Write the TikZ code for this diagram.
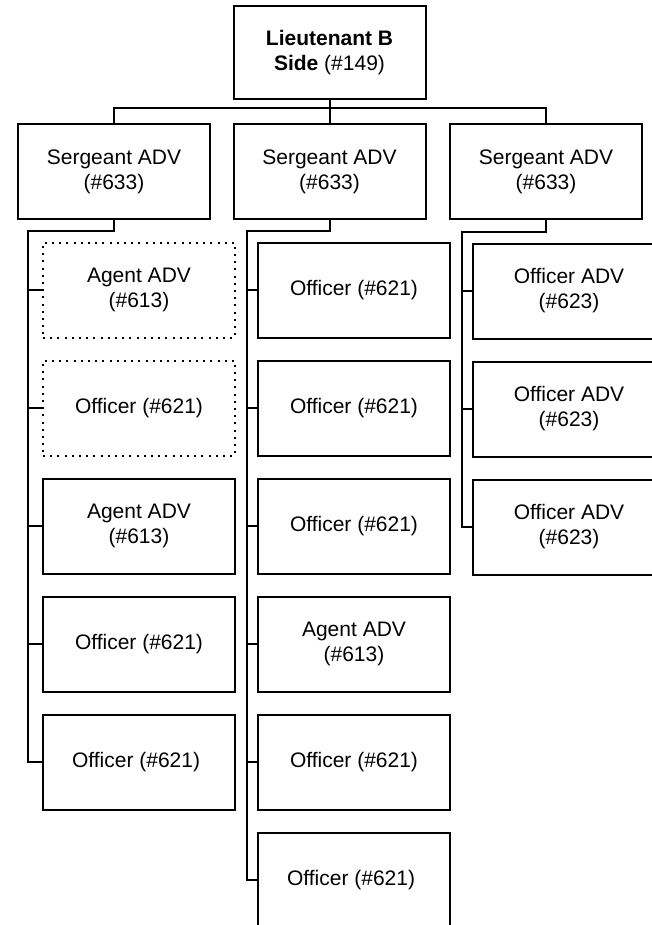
\documentclass[tikz,border=0pt]{standalone}
\usepackage{fontspec}
\setmainfont{Liberation Sans}
\usetikzlibrary{
    positioning,
    calc
}
\tikzset{
    unitbox/.style={draw, line width=1pt, minimum width=96pt, minimum height=47.5pt,
        align=center, inner sep=2pt, font=\fontsize{10.5}{12.5}\selectfont},
    vacantbox/.style={unitbox, dash pattern=on 1pt off 2.6pt},
    wire/.style={line width=1pt}
}

\begin{document}
\begin{tikzpicture}[x=0.5pt, y=-0.5pt]
\useasboundingbox (0,0) rectangle (652,925);
\clip (0,0) rectangle (652,925);

% Command
\node[unitbox, minimum height=46.5pt] (lt) at (329.5,52.5) {\textbf{Lieutenant B}\\\textbf{Side} (\#149)};
\coordinate (bus) at (329.5,108);

% Sergeants
\foreach \s/\x in {A/114, B/329.5, C/546} {
    \node[unitbox] (sg\s) at (\x,172) {Sergeant ADV\\(\#633)};
}
\draw[wire] (lt) -- (bus);
\draw[wire] (sgA.north) |- (bus) -| (sgC.north);
\draw[wire] (sgB.north) -- (bus);

% Column A
\foreach \i/\st/\t in {
    1/vacantbox/{Agent ADV\\(\#613)},
    2/vacantbox/{Officer (\#621)},
    3/unitbox/{Agent ADV\\(\#613)},
    4/unitbox/{Officer (\#621)},
    5/unitbox/{Officer (\#621)}
} {
    \node[\st] (cA\i) at (139,{172+118*\i}) {\t};
}
\coordinate (spA) at (28,231);
\draw[wire] (sgA.south) |- (spA) |- (cA5.west);
\foreach \i in {1,...,4} \draw[wire] (cA\i.west) -- (cA\i.west -| spA);

% Column B
\foreach \i/\t in {
    1/{Officer (\#621)},
    2/{Officer (\#621)},
    3/{Officer (\#621)},
    4/{Agent ADV\\(\#613)},
    5/{Officer (\#621)},
    6/{Officer (\#621)}
} {
    \node[unitbox] (cB\i) at (354,{172+118*\i}) {\t};
}
\coordinate (spB) at (247,231);
\draw[wire] (sgB.south) |- (spB) |- (cB6.west);
\foreach \i in {1,...,5} \draw[wire] (cB\i.west) -- (cB\i.west -| spB);

% Column C
\foreach \i in {1,2,3} {
    \node[unitbox] (cC\i) at (569,{173+118*\i}) {Officer ADV\\(\#623)};
}
\coordinate (spC) at (462,232);
\draw[wire] (sgC.south) |- (spC) |- (cC3.west);
\foreach \i in {1,2} \draw[wire] (cC\i.west) -- (cC\i.west -| spC);
\end{tikzpicture}
\end{document}
